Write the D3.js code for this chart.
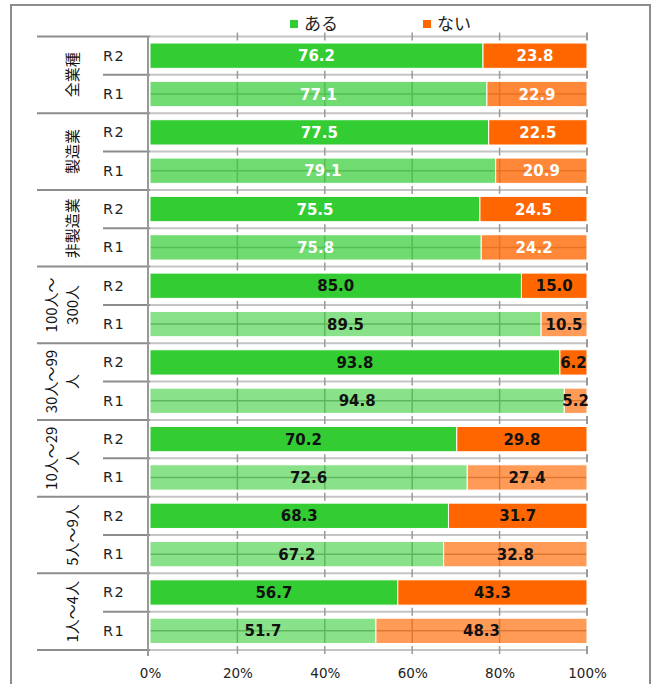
<!DOCTYPE html>
<head>
<meta charset="utf-8">
<style>
html, body { margin:0; padding:0; overflow:hidden; background-color:#fff; }
svg { position:absolute; top:0; left:0; }
.val { font-family:"DejaVu Sans", Verdana, sans-serif; font-weight:bold; font-size:15px; }
.sub { font-family:"DejaVu Sans", Tahoma, sans-serif; font-size:14.5px; fill:#222; letter-spacing:1.5px; }
.grp { font-family:"Noto Sans CJK JP", sans-serif; font-size:15px; fill:#111; }
.leg { font-family:"Noto Sans CJK JP", sans-serif; font-size:17px; fill:#222; }
.tick text { font-family:"DejaVu Sans", Tahoma, sans-serif; font-size:13.5px; fill:#222; }
</style>
</head>
<body>
<svg id="stage" width="651" height="684"></svg>
<script src="https://d3js.org/d3.v7.min.js"></script>
<script>

// groups, top to bottom (each has R2 then R1)
var groupLines = [["全業種"], ["製造業"], ["非製造業"], ["100人～", "300人"],
                  ["30人～99", "人"], ["10人～29", "人"], ["5人～9人"], ["1人～4人"]];
var periods = ["R2", "R1"];
var aruR2 = [76.2, 77.5, 75.5, 85.0, 93.8, 70.2, 68.3, 56.7];
var aruR1 = [77.1, 79.1, 75.8, 89.5, 94.8, 72.6, 67.2, 51.7];
var naiR2 = [23.8, 22.5, 24.5, 15.0, 6.2, 29.8, 31.7, 43.3];
var naiR1 = [22.9, 20.9, 24.2, 10.5, 5.2, 27.4, 32.8, 48.3];
var legendNames = ["ある", "ない"];
var ticks = [0, 20, 40, 60, 80, 100];

var green = "#33cc33", orange = "#ff6600";

// one row per bar
var rows = [];
groupLines.forEach(function(g, i) {
  rows.push({g: i, p: periods[0], aru: aruR2[i], nai: naiR2[i], light: false});
  rows.push({g: i, p: periods[1], aru: aruR1[i], nai: naiR1[i], light: true});
});

var svg = d3.select("#stage");

var x = d3.scaleLinear().domain([0, 100]).range([150, 587]);
var y = d3.scaleBand().domain(d3.range(rows.length)).range([36.5, 650])
    .paddingInner(0.34).paddingOuter(0.17);
var step = y.step();

// outer frame
svg.append("rect").attr("x", 11).attr("y", 5).attr("width", 639).attr("height", 690)
  .attr("fill", "none").attr("stroke", "#8c8c8c").attr("stroke-width", 2);

// legend
var leg = svg.append("g");
legendNames.forEach(function(n, i) {
  var lx = [290, 423][i];
  leg.append("rect").attr("x", lx).attr("y", 20).attr("width", 8).attr("height", 8)
    .attr("fill", [green, orange][i]);
  leg.append("text").attr("class", "leg").attr("x", lx + 14).attr("y", 30).text(n);
});

// row separators
d3.range(rows.length + 1).forEach(function(i) {
  var yy = 36.5 + i * step;
  svg.append("line").attr("x1", 150).attr("x2", x(100)).attr("y1", yy).attr("y2", yy)
    .attr("stroke", "#c4c4c4").attr("stroke-width", 2);
  svg.append("line").attr("x1", (i % 2 == 0) ? 37 : 103).attr("x2", 150).attr("y1", yy).attr("y2", yy)
    .attr("stroke", "#8c8c8c").attr("stroke-width", 2);
  ticks.slice(1).forEach(function(t) {
    svg.append("line").attr("x1", x(t)).attr("x2", x(t)).attr("y1", yy - 4).attr("y2", yy + 4)
      .attr("stroke", "#9a9a9a").attr("stroke-width", t == 100 ? 2 : 1.5);
  });
});

// grid seen through the pale R1 bars
rows.forEach(function(d, i) {
  if (!d.light) return;
  var top = y(i), bh = y.bandwidth();
  ticks.slice(1, 5).forEach(function(t) {
    svg.append("line").attr("x1", x(t)).attr("x2", x(t)).attr("y1", top).attr("y2", top + bh)
      .attr("stroke", "#9a9a9a").attr("stroke-width", 1.5);
  });
  svg.append("line").attr("x1", x(0)).attr("x2", x(100)).attr("y1", top + bh / 2).attr("y2", top + bh / 2)
    .attr("stroke", "#9a9a9a").attr("stroke-width", 1.5);
});

// bars
var bars = svg.selectAll("g.row").data(rows).enter().append("g").attr("class", "row");

bars.append("rect")
  .attr("x", x(0)).attr("y", function(d, i) { return y(i); })
  .attr("width", function(d) { return x(d.aru) - x(0); })
  .attr("height", y.bandwidth())
  .attr("fill", green)
  .attr("fill-opacity", function(d) { return d.light ? (d.g < 3 ? 0.7 : 0.58) : 1; })
  .attr("stroke", "#fff").attr("stroke-width", 1);

bars.append("rect")
  .attr("x", function(d) { return x(d.aru); }).attr("y", function(d, i) { return y(i); })
  .attr("width", function(d) { return x(d.aru + d.nai) - x(d.aru); })
  .attr("height", y.bandwidth())
  .attr("fill", orange)
  .attr("fill-opacity", function(d) { return d.light ? (d.g < 3 ? 0.78 : 0.66) : 1; })
  .attr("stroke", "#fff").attr("stroke-width", 1);

bars.append("text").attr("class", "val")
  .attr("x", function(d) { return x(d.aru / 2); })
  .attr("y", function(d, i) { return y(i) + y.bandwidth() / 2 + 5.5; })
  .attr("text-anchor", "middle")
  .attr("fill", function(d) { return d.g < 3 ? "#fff" : "#111"; })
  .text(function(d) { return d.aru.toFixed(1); });

bars.append("text").attr("class", "val")
  .attr("x", function(d) { return x(d.aru + d.nai / 2); })
  .attr("y", function(d, i) { return y(i) + y.bandwidth() / 2 + 5.5; })
  .attr("text-anchor", "middle")
  .attr("fill", function(d) { return d.g < 3 ? "#fff" : "#111"; })
  .text(function(d) { return d.nai.toFixed(1); });

// R2 / R1 labels
bars.append("text").attr("class", "sub")
  .attr("x", 103).attr("y", function(d, i) { return y(i) + y.bandwidth() / 2 + 5; })
  .text(function(d) { return d.p; });

// group labels, rotated
groupLines.forEach(function(lines, i) {
  var cy = 36.5 + (i * 2 + 1) * step;
  lines.forEach(function(l, j) {
    var cx = (lines.length == 2 && j == 0) ? 52 : 73;
    svg.append("text").attr("class", "grp")
      .attr("transform", "translate(" + (cx + 5) + "," + cy + ") rotate(-90)")
      .attr("text-anchor", "middle").text(l);
  });
});

// value axis
svg.append("line").attr("x1", 148).attr("x2", 148).attr("y1", 36).attr("y2", 656)
  .attr("stroke", "#999").attr("stroke-width", 2);

svg.append("g").attr("transform", "translate(0,660)")
  .call(d3.axisBottom(x).tickValues(ticks).tickSize(0).tickPadding(8)
    .tickFormat(function(d) { return d + "%"; }))
  .call(function(g) { g.select(".domain").remove(); });

</script>
